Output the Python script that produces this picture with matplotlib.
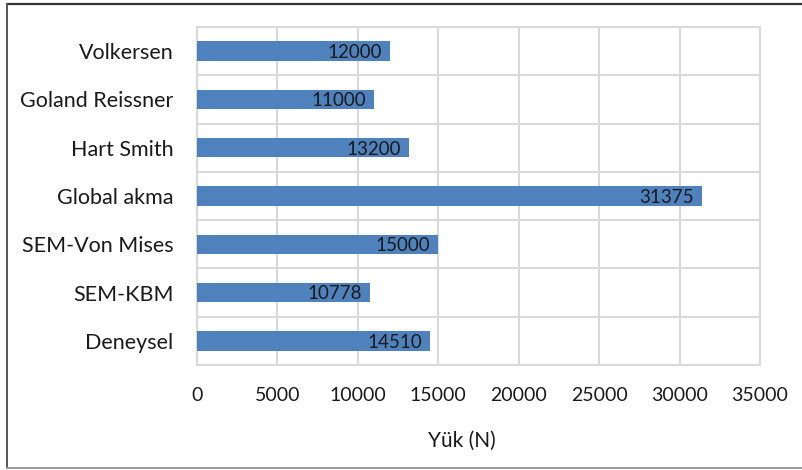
import matplotlib
matplotlib.use("Agg")
import matplotlib.pyplot as plt
from matplotlib.lines import Line2D

plt.rcParams["font.family"] = ["Lato", "DejaVu Sans"]

# failure loads per method, listed top to bottom
methods = ["Volkersen", "Goland Reissner", "Hart Smith", "Global akma",
           "SEM-Von Mises", "SEM-KBM", "Deneysel"]
loads = [12000, 11000, 13200, 31375, 15000, 10778, 14510]
xticks = [0, 5000, 10000, 15000, 20000, 25000, 30000, 35000]

W, H = 803, 470
fig = plt.figure(figsize=(W / 100, H / 100), dpi=100)
ax = fig.add_axes([197 / W, 1 - 365 / H, 563 / W, 338 / H])

grid_c = "#d9d9d9"
txt_c = "#1a1a1a"
ypos = list(range(len(methods)))
ax.barh(ypos, loads, height=0.4, color="#4f81bd", zorder=3)
for y, v in zip(ypos, loads):
    ax.annotate(f"{v}", xy=(v, y), xytext=(-6, -1), textcoords="offset points",
                ha="right", va="center", fontsize=13.5, color=txt_c, zorder=4)

ax.set_xlim(0, 35000)
ax.set_ylim(len(methods) - 0.5, -0.5)
ax.set_xticks(xticks)
ax.set_xticklabels([str(t) for t in xticks])
ax.set_yticks(ypos)
ax.set_yticklabels(methods)
ax.set_yticks([y + 0.5 for y in range(-1, len(methods))], minor=True)
ax.tick_params(axis="x", length=0, pad=16, labelsize=14, labelcolor=txt_c)
ax.tick_params(axis="y", length=0, pad=17, labelsize=15.5, labelcolor=txt_c)
ax.tick_params(axis="y", which="minor", length=0)
ax.grid(axis="x", color=grid_c, lw=1.5, zorder=0)
ax.grid(axis="y", which="minor", color=grid_c, lw=1.5, zorder=0)
for s in ax.spines.values():
    s.set_color(grid_c)
    s.set_linewidth(1.5)

ax.set_xlabel("Yük (N)", fontsize=15, color=txt_c)
ax.xaxis.set_label_coords(0.47, -0.195)

# outer chart border (open on the right)
x0, y0, y1 = 7.5 / W, 1 - 467.5 / H, 1 - 3.5 / H
fig.add_artist(Line2D([x0, 1], [y1, y1], color="#333333", lw=1.6))
fig.add_artist(Line2D([x0, x0], [y0, y1], color="#555555", lw=1.4))
fig.add_artist(Line2D([x0, 1], [y0, y0], color="#999999", lw=1.4))

fig.savefig("out.png", dpi=100)
